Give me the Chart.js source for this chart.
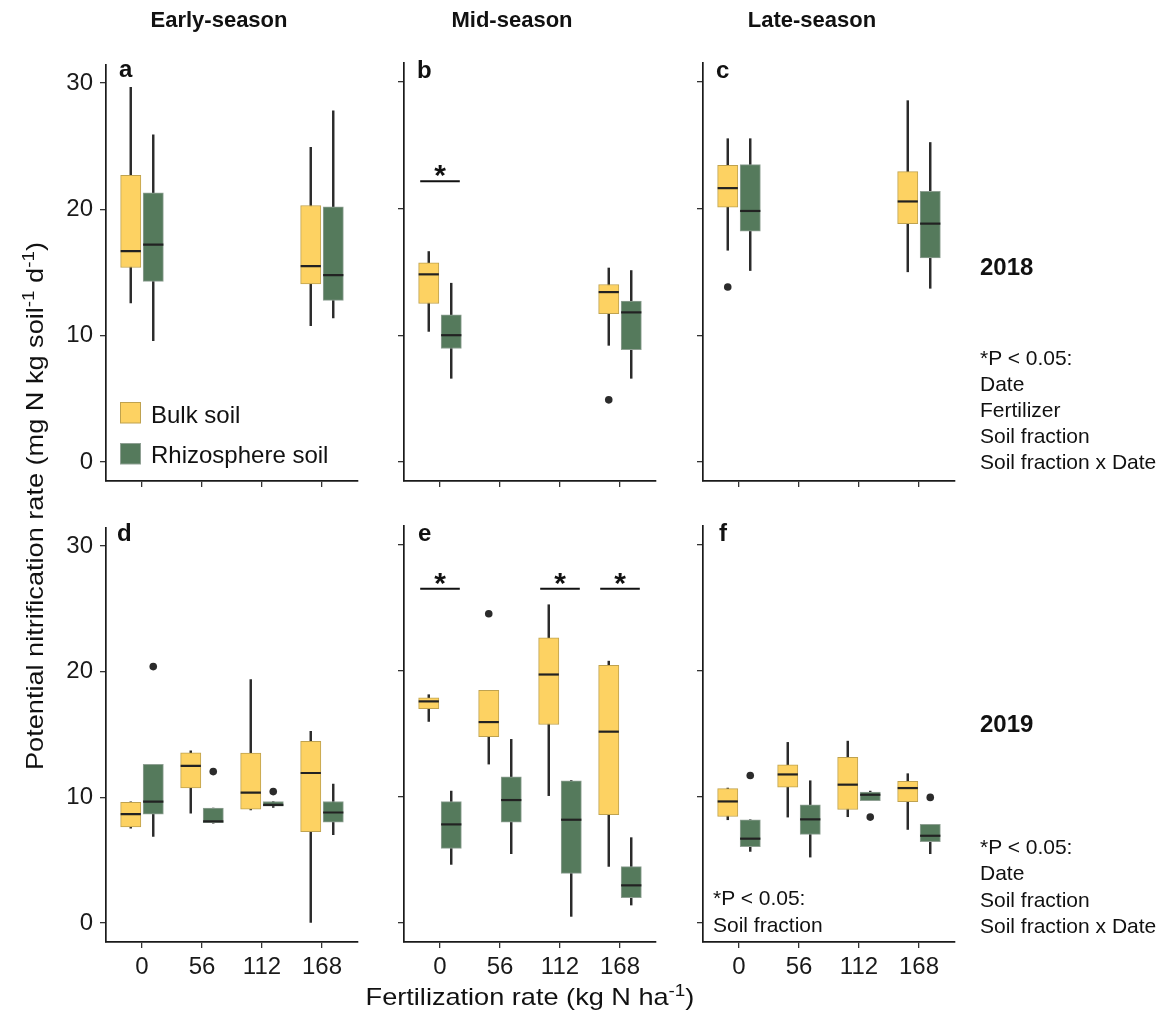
<!DOCTYPE html>
<html><head><meta charset="utf-8">
<script src="https://cdn.jsdelivr.net/npm/chart.js@4.4.1/dist/chart.umd.min.js"></script>
<style>
html,body{margin:0;padding:0;background:#fff;}
#stage{position:relative;width:1165px;height:1017px;overflow:hidden;background:#fff;}
canvas{position:absolute;}
svg{position:absolute;left:0;top:0;pointer-events:none;}
svg text{font-family:'Liberation Sans',Arial,Helvetica,sans-serif;fill:#111;}
</style></head><body>
<div id="stage">
<canvas id="pa"></canvas><canvas id="pb"></canvas><canvas id="pc"></canvas>
<canvas id="pd"></canvas><canvas id="pe"></canvas><canvas id="pf"></canvas>
<svg width="1165" height="1017" viewBox="0 0 1165 1017">
  <g font-weight="bold" font-size="22" text-anchor="middle">
    <text x="219" y="27">Early-season</text>
    <text x="512" y="27">Mid-season</text>
    <text x="812" y="27">Late-season</text>
  </g>
  <g font-weight="bold" font-size="24">
    <text x="119" y="77">a</text>
    <text x="417" y="78">b</text>
    <text x="716" y="78">c</text>
    <text x="117" y="541">d</text>
    <text x="418" y="541">e</text>
    <text x="719" y="541">f</text>
  </g>
  <rect x="120.5" y="402.5" width="20" height="20.5" fill="#FDD262" stroke="#BFA24F" stroke-width="1"/>
  <rect x="120.5" y="443.5" width="20" height="20.5" fill="#557A5C" stroke="#8FA093" stroke-width="1"/>
  <g font-size="24">
    <text x="151" y="423">Bulk soil</text>
    <text x="151" y="463">Rhizosphere soil</text>
  </g>
  <g font-weight="bold" font-size="24">
    <text x="980" y="275">2018</text>
    <text x="980" y="731.5">2019</text>
  </g>
  <g font-size="21">
    <text x="980" y="365">*P &lt; 0.05:</text>
    <text x="980" y="391">Date</text>
    <text x="980" y="417">Fertilizer</text>
    <text x="980" y="443">Soil fraction</text>
    <text x="980" y="469">Soil fraction x Date</text>
    <text x="980" y="854">*P &lt; 0.05:</text>
    <text x="980" y="880">Date</text>
    <text x="980" y="906.5">Soil fraction</text>
    <text x="980" y="933">Soil fraction x Date</text>
    <text x="713" y="905">*P &lt; 0.05:</text>
    <text x="713" y="931.5">Soil fraction</text>
  </g>
  <text transform="translate(43,770) rotate(-90) scale(1.18,1)" font-size="23">Potential nitrification rate (mg N kg soil<tspan dy="-9" font-size="16">-1</tspan><tspan dy="9"> d</tspan><tspan dy="-9" font-size="16">-1</tspan><tspan dy="9">)</tspan></text>
  <text transform="translate(530,1005) scale(1.18,1)" text-anchor="middle" font-size="23">Fertilization rate (kg N ha<tspan dy="-9" font-size="16">-1</tspan><tspan dy="9">)</tspan></text>
</svg>
</div>
<script>
// ---------- data ----------
const FERT_LABELS = ['0', '56', '112', '168'];
const Y_TICKS = [0, 10, 20, 30];
// five-number summaries: [lower whisker, Q1, median, Q3, upper whisker]
// 2018 (top row)
const A_BULK  = [[12.6, 15.4, 16.7, 22.7, 29.65], null, null, [10.8, 14.1, 15.5, 20.3, 24.9]];
const A_RHIZO = [[9.6, 14.3, 17.2, 21.3, 25.9], null, null, [11.4, 12.8, 14.8, 20.2, 27.8]];
const A_BULK_OUT = [[], [], [], []];
const A_RHIZO_OUT = [[], [], [], []];
const A_SIG = [];

const B_BULK  = [[10.3, 12.5, 14.8, 15.7, 16.6], null, null, [9.2, 11.7, 13.4, 14.0, 15.3]];
const B_RHIZO = [[6.6, 8.95, 10.0, 11.6, 14.1], null, null, [6.6, 8.85, 11.8, 12.7, 15.1]];
const B_BULK_OUT = [[], [], [], [4.9]];
const B_RHIZO_OUT = [[], [], [], []];
const B_SIG = [[0, 22.15]];

const C_BULK  = [[16.7, 20.1, 21.6, 23.4, 25.5], null, null, [15.0, 18.8, 20.55, 22.9, 28.5]];
const C_RHIZO = [[15.1, 18.2, 19.8, 23.45, 25.5], null, null, [13.7, 16.1, 18.8, 21.35, 25.2]];
const C_BULK_OUT = [[13.8], [], [], []];
const C_RHIZO_OUT = [[], [], [], []];
const C_SIG = [];

// 2019 (bottom row)
const D_BULK  = [[7.56, 7.66, 8.67, 9.6, 9.64], [8.75, 10.75, 12.5, 13.55, 13.7], [9.0, 9.06, 10.38, 13.53, 19.37], [0.0, 7.27, 11.94, 14.45, 15.25]];
const D_RHIZO = [[6.9, 8.67, 9.67, 12.63, 12.63], [7.95, 7.98, 8.1, 9.14, 9.14], [9.2, 9.3, 9.4, 9.67, 9.67], [7.03, 8.03, 8.8, 9.67, 11.05]];
const D_BULK_OUT = [[], [], [], []];
const D_RHIZO_OUT = [[20.4], [12.05], [10.46], []];
const D_SIG = [];

const E_BULK  = [[15.98, 16.99, 17.57, 17.86, 18.1], [12.6, 14.77, 15.93, 18.44, 18.44], [10.1, 15.74, 19.7, 22.6, 25.23], [4.49, 8.59, 15.17, 20.42, 20.76]];
const E_RHIZO = [[4.65, 5.92, 7.82, 9.62, 10.46], [5.5, 8.0, 9.75, 11.6, 14.56], [0.53, 3.94, 8.19, 11.27, 11.3], [1.43, 2.01, 2.99, 4.47, 6.77]];
const E_BULK_OUT = [[], [24.52], [], []];
const E_RHIZO_OUT = [[], [], [], []];
const E_SIG = [[0, 26.5], [2, 26.5], [3, 26.5]];

const F_BULK  = [[8.19, 8.45, 9.64, 10.65, 10.7], [8.4, 10.78, 11.78, 12.55, 14.32], [8.43, 9.0, 10.97, 13.13, 14.42], [7.42, 9.62, 10.7, 11.23, 11.84]];
const F_RHIZO = [[5.68, 6.05, 6.69, 8.19, 8.19], [5.23, 7.03, 8.22, 9.38, 11.28], [9.7, 9.7, 10.17, 10.38, 10.46], [5.5, 6.45, 6.92, 7.82, 7.82]];
const F_BULK_OUT = [[], [], [], []];
const F_RHIZO_OUT = [[11.7], [], [8.4], [9.96]];
const F_SIG = [];

// ---------- style / layout ----------
const FONT = "'Liberation Sans', Arial, Helvetica, sans-serif";
Chart.defaults.font.family = FONT;
const BULK_FILL = '#FDD262', BULK_LINE = '#BFA24F';
const RHIZO_FILL = '#557A5C', RHIZO_LINE = '#8FA093';
const INK = '#2B2B2B';
const Y_MIN = -1.5, Y_MAX = 31.47;
const X_MIN = -0.6, X_MAX = 3.6;
const DODGE = 0.1875, BOX_FRAC = 0.3375, SIG_HALF = 0.33;
const YW = 80, PAD_T = 20, PAD_R = 4, XH = 50;

const PANELS = [
  {id: 'pa', L: 106, R: 358, T: 63, B: 481, bulk: A_BULK, rhizo: A_RHIZO, bo: A_BULK_OUT, ro: A_RHIZO_OUT, sig: A_SIG, yLab: true, xLab: false},
  {id: 'pb', L: 404, R: 656, T: 63, B: 481, bulk: B_BULK, rhizo: B_RHIZO, bo: B_BULK_OUT, ro: B_RHIZO_OUT, sig: B_SIG, yLab: false, xLab: false},
  {id: 'pc', L: 703, R: 955, T: 63, B: 481, bulk: C_BULK, rhizo: C_RHIZO, bo: C_BULK_OUT, ro: C_RHIZO_OUT, sig: C_SIG, yLab: false, xLab: false},
  {id: 'pd', L: 106, R: 358, T: 526, B: 942, bulk: D_BULK, rhizo: D_RHIZO, bo: D_BULK_OUT, ro: D_RHIZO_OUT, sig: D_SIG, yLab: true, xLab: true},
  {id: 'pe', L: 404, R: 656, T: 526, B: 942, bulk: E_BULK, rhizo: E_RHIZO, bo: E_BULK_OUT, ro: E_RHIZO_OUT, sig: E_SIG, yLab: false, xLab: true},
  {id: 'pf', L: 703, R: 955, T: 526, B: 942, bulk: F_BULK, rhizo: F_RHIZO, bo: F_BULK_OUT, ro: F_RHIZO_OUT, sig: F_SIG, yLab: false, xLab: true}
];

function pts(stats, shift, pick) {
  const out = [];
  stats.forEach((s, i) => { if (s) out.push({x: i + shift, y: pick(s)}); });
  return out;
}
function outPts(list, shift) {
  const out = [];
  list.forEach((vals, i) => vals.forEach(v => out.push({x: i + shift, y: v})));
  return out;
}

const sigStars = {
  id: 'sigStars',
  afterDatasetsDraw(chart, args, opts) {
    const items = (opts && opts.items) || [];
    if (!items.length) return;
    const {ctx, scales: {x, y}} = chart;
    ctx.save();
    ctx.font = 'bold 30px ' + FONT;
    ctx.fillStyle = '#111';
    ctx.textAlign = 'center';
    ctx.textBaseline = 'alphabetic';
    const m = ctx.measureText('*');
    items.forEach(([c, yv]) => {
      const px = x.getPixelForValue(c);
      const py = y.getPixelForValue(yv);
      const center = py - 10;
      ctx.fillText('*', px, center + (m.actualBoundingBoxAscent - m.actualBoundingBoxDescent) / 2);
    });
    ctx.restore();
  }
};

PANELS.forEach(p => {
  const cv = document.getElementById(p.id);
  const w = YW + (p.R - p.L) + PAD_R;
  const h = PAD_T + (p.B - p.T) + XH;
  cv.width = w; cv.height = h;
  cv.style.width = w + 'px'; cv.style.height = h + 'px';
  cv.style.left = (p.L - YW) + 'px'; cv.style.top = (p.T - PAD_T) + 'px';
  const unitPx = (p.R - p.L) / (X_MAX - X_MIN);
  const boxW = BOX_FRAC * unitPx;

  const datasets = [];
  [[p.bulk, -DODGE, BULK_FILL, BULK_LINE], [p.rhizo, DODGE, RHIZO_FILL, RHIZO_LINE]].forEach(([st, sh, fill, line]) => {
    datasets.push({type: 'bar', order: 6, grouped: false, barThickness: 1.8,
      data: pts(st, sh, s => [s[0], s[4]]), backgroundColor: INK, borderWidth: 0});
    datasets.push({type: 'bar', order: 5, grouped: false, barThickness: boxW,
      data: pts(st, sh, s => [s[1], s[3]]), backgroundColor: fill, borderColor: line,
      borderWidth: 1, borderSkipped: false});
    datasets.push({type: 'line', order: 4, showLine: false,
      data: pts(st, sh, s => s[2]), pointStyle: 'line', pointRadius: boxW / 2,
      pointBorderWidth: 2.2, pointBorderColor: '#222', pointBackgroundColor: '#222'});
  });
  datasets.push({type: 'line', order: 3, showLine: false,
    data: outPts(p.bo, -DODGE).concat(outPts(p.ro, DODGE)), pointStyle: 'circle', pointRadius: 3.8,
    pointBackgroundColor: INK, pointBorderWidth: 0});
  p.sig.forEach(([c, yv]) => {
    datasets.push({type: 'line', order: 2, data: [{x: c - SIG_HALF, y: yv}, {x: c + SIG_HALF, y: yv}],
      borderColor: '#111', borderWidth: 2, pointRadius: 0});
  });

  const gridOpt = {display: true, offset: false, drawOnChartArea: false, drawTicks: true, tickLength: 6,
    color: '#333', tickColor: '#333', lineWidth: 1.3};
  const borderOpt = {display: true, color: '#1a1a1a', width: 1.7};

  new Chart(cv, {
    type: 'bar',
    data: {datasets},
    plugins: [sigStars],
    options: {
      responsive: false, animation: false, devicePixelRatio: 1, events: [],
      layout: {autoPadding: false, padding: {top: PAD_T, right: PAD_R, left: 0, bottom: 0}},
      plugins: {legend: {display: false}, tooltip: {enabled: false}, sigStars: {items: p.sig}},
      scales: {
        x: {type: 'linear', min: X_MIN, max: X_MAX, offset: false, bounds: 'data',
          afterBuildTicks: s => { s.ticks = FERT_LABELS.map((_, i) => ({value: i})); },
          afterFit: s => { s.height = XH; },
          grid: gridOpt, border: borderOpt,
          ticks: {display: p.xLab, callback: v => FERT_LABELS[v] ?? '', font: {size: 24}, color: '#1a1a1a',
            padding: 5, maxRotation: 0, autoSkip: false}},
        y: {type: 'linear', min: Y_MIN, max: Y_MAX, bounds: 'data',
          afterBuildTicks: s => { s.ticks = Y_TICKS.map(v => ({value: v})); },
          afterFit: s => { s.width = YW; },
          grid: gridOpt, border: borderOpt,
          ticks: {display: p.yLab, font: {size: 24}, color: '#1a1a1a', padding: 7}}
      }
    }
  });
});
</script>
</body></html>
